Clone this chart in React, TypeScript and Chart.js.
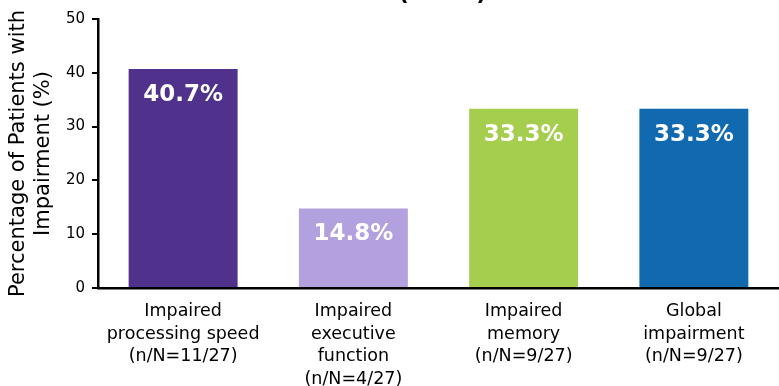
import React, { useEffect, useRef } from "react";
import { Chart, registerables } from "chart.js";

Chart.register(...registerables);

const categories: string[][] = [
  ["Impaired", "processing speed", "(n/N=11/27)"],
  ["Impaired", "executive", "function", "(n/N=4/27)"],
  ["Impaired", "memory", "(n/N=9/27)"],
  ["Global", "impairment", "(n/N=9/27)"],
];
const values: number[] = [40.7, 14.8, 33.3, 33.3];
const barColors: string[] = ["#50318B", "#B3A0DE", "#A6CE4E", "#1169AF"];
const yTicks: number[] = [0, 10, 20, 30, 40, 50];
const titleText = "(N=27)";
const yTitle = ["Percentage of Patients with", "Impairment (%)"];

const FONT = "'DejaVu Sans', Verdana, sans-serif";

const valueLabels = {
  id: "valueLabels",
  afterDatasetsDraw(chart: any) {
    const ctx = chart.ctx;
    const meta = chart.getDatasetMeta(0);
    ctx.save();
    ctx.fillStyle = "#ffffff";
    ctx.font = `bold 23px ${FONT}`;
    ctx.textAlign = "center";
    ctx.textBaseline = "middle";
    meta.data.forEach((bar: any, i: number) => {
      ctx.fillText(values[i].toFixed(1) + "%", bar.x, bar.y + 26);
    });
    ctx.restore();
  },
};

const clippedTitle = {
  id: "clippedTitle",
  afterDraw(chart: any) {
    const ctx = chart.ctx;
    const area = chart.chartArea;
    ctx.save();
    ctx.fillStyle = "#000000";
    ctx.font = `bold 22px ${FONT}`;
    ctx.textAlign = "center";
    ctx.textBaseline = "alphabetic";
    ctx.fillText(titleText, (area.left + area.right) / 2 + 4, 0);
    ctx.restore();
  },
};

export default function App() {
  const ref = useRef<HTMLCanvasElement | null>(null);
  useEffect(() => {
    if (!ref.current) return;
    const chart = new Chart(ref.current, {
      type: "bar",
      data: {
        labels: categories,
        datasets: [
          {
            data: values,
            backgroundColor: barColors,
            borderWidth: 0,
            categoryPercentage: 1,
            barPercentage: 0.64,
          },
        ],
      },
      options: {
        animation: false,
        responsive: true,
        maintainAspectRatio: false,
        layout: { padding: { top: 19, left: 0, right: 0, bottom: 0 } },
        plugins: {
          legend: { display: false },
          tooltip: { enabled: false },
        },
        scales: {
          x: {
            offset: true,
            afterFit(axis: any) {
              axis.height = 98;
            },
            grid: { display: false, drawTicks: false },
            border: { display: true, color: "#000", width: 2.5 },
            ticks: {
              color: "#000",
              font: { family: FONT, size: 17.5, lineHeight: 1.3 },
              padding: 12,
              maxRotation: 0,
              autoSkip: false,
            },
          },
          y: {
            min: 0,
            max: 50,
            afterFit(axis: any) {
              axis.width = 98;
            },
            afterBuildTicks(axis: any) {
              axis.ticks = yTicks.map((v) => ({ value: v }));
            },
            grid: {
              drawOnChartArea: false,
              drawTicks: true,
              tickLength: 6,
              color: "#000",
              lineWidth: 2,
            },
            border: { display: true, color: "#000", width: 2.5 },
            ticks: {
              color: "#000",
              font: { family: FONT, size: 15 },
              padding: 7,
            },
            title: {
              display: true,
              text: yTitle,
              color: "#000",
              font: { family: FONT, size: 21, lineHeight: 1.2 },
              padding: { top: 6, bottom: 8 },
            },
          },
        },
      },
      plugins: [valueLabels, clippedTitle],
    });
    return () => chart.destroy();
  }, []);
  return (
    <div style={{ position: "absolute", left: 0, top: 0, width: 779, height: 386, background: "#fff" }}>
      <canvas ref={ref} />
    </div>
  );
}
